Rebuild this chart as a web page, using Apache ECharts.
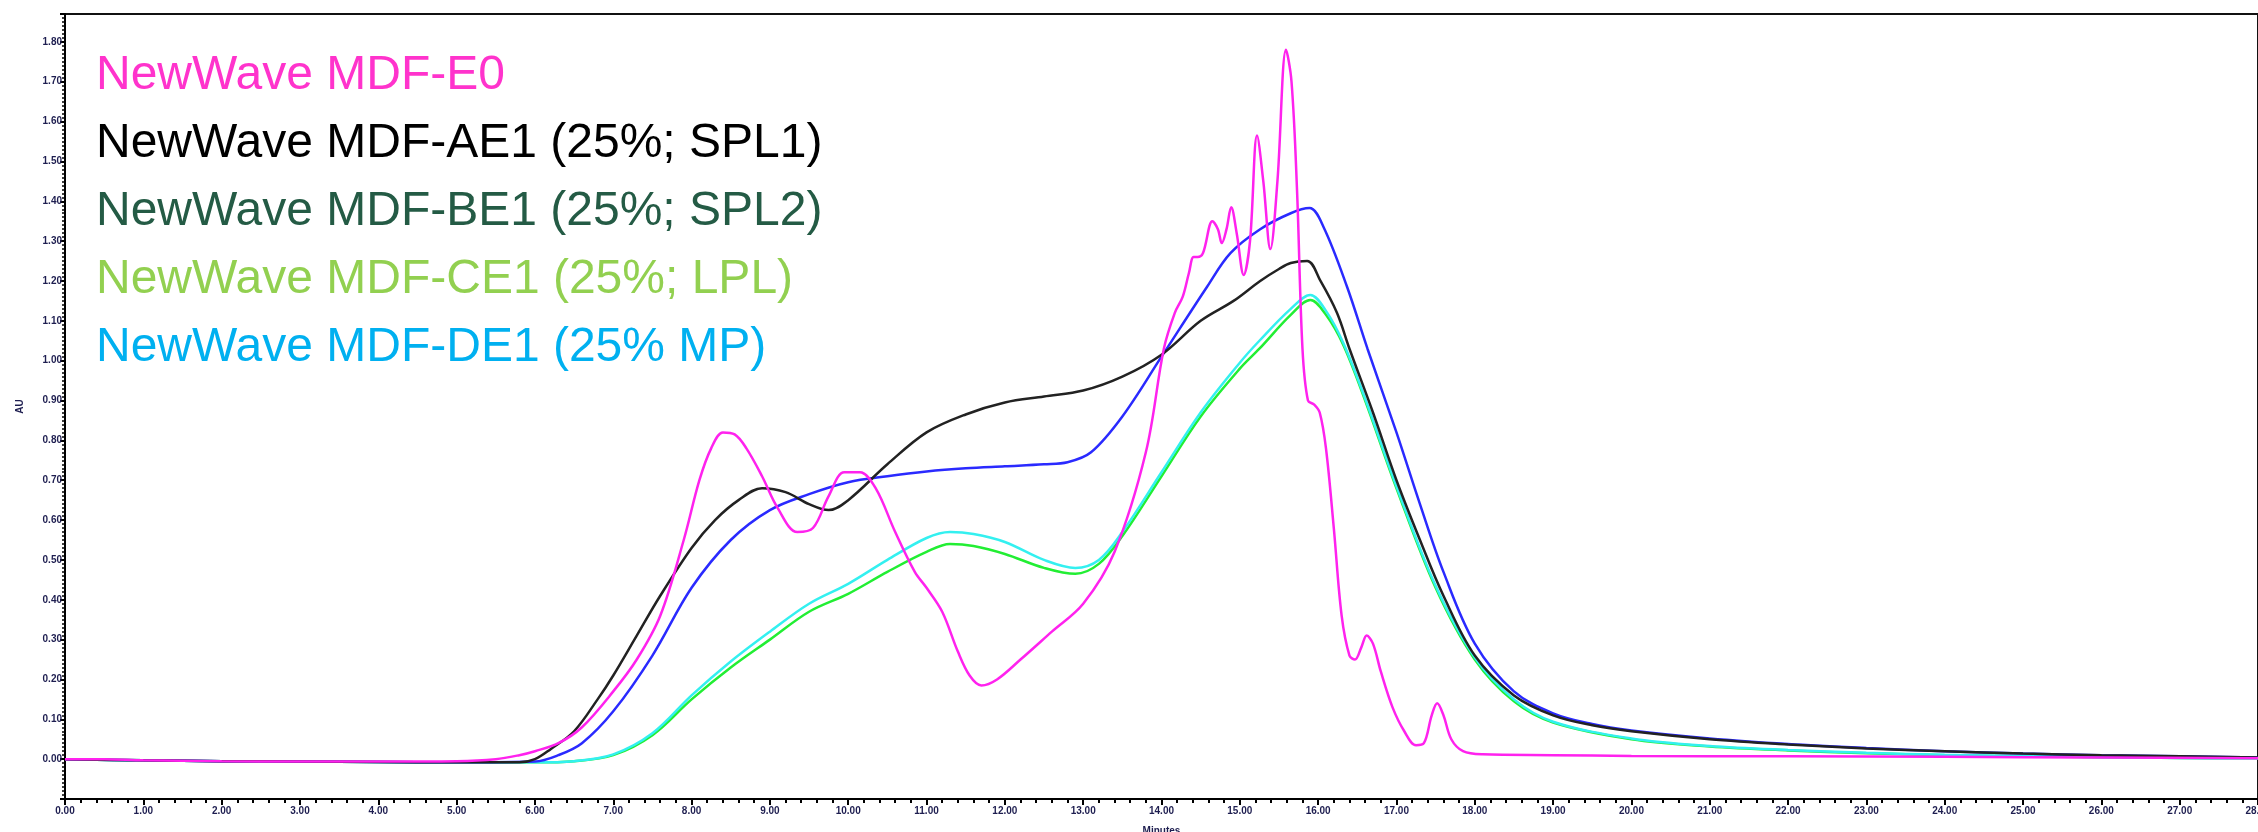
<!DOCTYPE html>
<html>
<head>
<meta charset="utf-8">
<script src="https://cdn.jsdelivr.net/npm/echarts@6/dist/echarts.min.js"></script>
<style>
  html, body { margin: 0; padding: 0; background: #fff; }
  #main { width: 2258px; height: 832px; }
</style>
</head>
<body>
<div id="main"></div>
<script>
// sample names (legend order) and legend text colours
const sampleNames = [
  'NewWave MDF-E0',
  'NewWave MDF-AE1 (25%; SPL1)',
  'NewWave MDF-BE1 (25%; SPL2)',
  'NewWave MDF-CE1 (25%; LPL)',
  'NewWave MDF-DE1 (25% MP)'
];
const legendColors = ['#ff33cc', '#000000', '#245b45', '#92d050', '#00b0f0'];
const lineColors = ['#ff22ee', '#222222', '#2a2aff', '#22ee33', '#33f0f0'];

// retention time (min) / absorbance (AU) for each trace
const e0Time = [0, 0.5, 1, 2, 3, 4, 5, 5.5, 5.8, 6.0, 6.3, 6.6, 7.0, 7.3, 7.6, 7.9, 8.1, 8.25, 8.4, 8.55, 8.7, 8.9, 9.1, 9.35, 9.55, 9.75, 9.95, 10.15, 10.35, 10.6, 10.85, 11.0, 11.2, 11.4, 11.55, 11.7, 11.9, 12.2, 12.6, 13.0, 13.4, 13.8, 14.03, 14.17, 14.27, 14.35, 14.41, 14.46, 14.53, 14.65, 14.72, 14.77, 14.83, 14.89, 14.96, 15.05, 15.13, 15.22, 15.3, 15.39, 15.48, 15.59, 15.66, 15.73, 15.8, 15.87, 15.95, 16.02, 16.1, 16.2, 16.3, 16.4, 16.47, 16.55, 16.62, 16.7, 16.8, 16.95, 17.1, 17.25, 17.35, 17.45, 17.52, 17.6, 17.7, 17.85, 18.1, 19, 20, 22, 24, 26, 28];
const e0Val = [0.0, 0.0, -0.003, -0.005, -0.006, -0.006, -0.005, 0.0, 0.01, 0.02, 0.04, 0.08, 0.17, 0.25, 0.36, 0.55, 0.70, 0.78, 0.82, 0.815, 0.78, 0.71, 0.63, 0.57, 0.58, 0.66, 0.72, 0.72, 0.68, 0.57, 0.47, 0.43, 0.37, 0.27, 0.21, 0.185, 0.2, 0.25, 0.32, 0.39, 0.52, 0.77, 1.03, 1.12, 1.16, 1.22, 1.26, 1.26, 1.27, 1.35, 1.33, 1.295, 1.33, 1.385, 1.32, 1.215, 1.3, 1.565, 1.45, 1.28, 1.45, 1.78, 1.70, 1.43, 1.03, 0.9, 0.89, 0.87, 0.78, 0.58, 0.36, 0.26, 0.25, 0.28, 0.31, 0.29, 0.22, 0.13, 0.07, 0.035, 0.04, 0.11, 0.14, 0.11, 0.05, 0.02, 0.012, 0.01, 0.008, 0.007, 0.006, 0.004, 0.002];

const ae1Time = [0, 1, 2, 3, 4, 5, 5.8, 6.0, 6.2, 6.5, 6.8, 7.0, 7.3, 7.6, 8.0, 8.3, 8.6, 8.9, 9.2, 9.5, 9.75, 10.0, 10.5, 11.0, 11.5, 12.0, 12.5, 13.0, 13.5, 14.0, 14.5, 14.92, 15.26, 15.5, 15.65, 15.86, 16.03, 16.24, 16.4, 16.7, 17.0, 17.3, 17.6, 18.0, 18.5, 19.0, 19.5, 20, 21, 22, 23, 24, 25, 26, 27, 28];
const ae1Val = [0.0, -0.003, -0.005, -0.006, -0.007, -0.008, -0.008, 0.0, 0.025, 0.07, 0.15, 0.21, 0.31, 0.41, 0.53, 0.6, 0.65, 0.68, 0.67, 0.64, 0.625, 0.65, 0.74, 0.82, 0.865, 0.895, 0.91, 0.925, 0.96, 1.015, 1.1, 1.15, 1.2, 1.23, 1.245, 1.25, 1.2, 1.12, 1.03, 0.87, 0.70, 0.55, 0.41, 0.26, 0.16, 0.11, 0.085, 0.07, 0.05, 0.037, 0.027, 0.02, 0.014, 0.01, 0.007, 0.004];

const be1Time = [0, 1, 2, 3, 4, 5, 6.0, 6.3, 6.6, 7.0, 7.5, 8.0, 8.5, 9.0, 9.5, 10.0, 10.5, 11.0, 11.5, 12.0, 12.5, 12.8, 13.1, 13.5, 14.0, 14.58, 14.88, 15.26, 15.65, 15.89, 16.07, 16.37, 16.63, 17.0, 17.3, 17.6, 18.0, 18.5, 19.0, 19.5, 20, 21, 22, 23, 24, 25, 26, 27, 28];
const be1Val = [0.0, -0.003, -0.005, -0.006, -0.007, -0.008, -0.006, 0.01, 0.04, 0.12, 0.26, 0.43, 0.55, 0.625, 0.665, 0.695, 0.71, 0.722, 0.73, 0.735, 0.74, 0.745, 0.77, 0.86, 1.01, 1.185, 1.27, 1.33, 1.37, 1.383, 1.335, 1.185, 1.03, 0.82, 0.64, 0.47, 0.29, 0.17, 0.115, 0.088, 0.072, 0.052, 0.038, 0.028, 0.02, 0.014, 0.01, 0.007, 0.004];

const ce1Time = [0, 1, 2, 3, 4, 5, 6, 6.5, 7.0, 7.5, 8.0, 8.5, 9.0, 9.5, 10.0, 10.5, 11.0, 11.3, 11.6, 12.0, 12.5, 12.9, 13.2, 13.5, 14.0, 14.5, 15.0, 15.25, 15.65, 15.9, 16.1, 16.32, 16.6, 17.0, 17.5, 18.0, 18.5, 19.0, 20, 21, 22, 23, 24, 25, 26, 27, 28];
const ce1Val = [0.0, -0.003, -0.005, -0.006, -0.007, -0.008, -0.008, -0.005, 0.01, 0.06, 0.15, 0.23, 0.30, 0.37, 0.415, 0.47, 0.52, 0.54, 0.535, 0.515, 0.48, 0.465, 0.49, 0.56, 0.71, 0.86, 0.98, 1.03, 1.115, 1.152, 1.115, 1.04, 0.9, 0.68, 0.43, 0.25, 0.145, 0.092, 0.05, 0.032, 0.022, 0.015, 0.01, 0.007, 0.005, 0.003, 0.002];

const de1Time = ce1Time;
const de1Val = [0.0, -0.003, -0.005, -0.006, -0.007, -0.008, -0.008, -0.005, 0.012, 0.065, 0.16, 0.245, 0.32, 0.39, 0.44, 0.50, 0.555, 0.57, 0.565, 0.545, 0.50, 0.48, 0.50, 0.57, 0.72, 0.87, 0.995, 1.05, 1.13, 1.165, 1.125, 1.045, 0.905, 0.685, 0.435, 0.255, 0.15, 0.094, 0.052, 0.033, 0.023, 0.016, 0.011, 0.008, 0.005, 0.003, 0.002];

const traceTimes = [e0Time, ae1Time, be1Time, ce1Time, de1Time];
const traceVals = [e0Val, ae1Val, be1Val, ce1Val, de1Val];
const traceZ = [6, 5, 4, 2, 3];

const myChart = echarts.init(document.getElementById('main'));

const axisFont = {
  fontFamily: 'Liberation Sans, Arial, sans-serif',
  fontSize: 10,
  fontWeight: 'bold',
  color: '#1e1e50'
};

myChart.setOption({
  animation: false,
  backgroundColor: '#ffffff',
  grid: {
    left: 65,
    right: 0,
    top: 14,
    bottom: 33,
    containLabel: false,
    outerBoundsMode: 'none',
    show: true,
    borderColor: '#111',
    borderWidth: 2
  },
  legend: {
    orient: 'vertical',
    left: 91,
    top: 42,
    padding: 0,
    itemGap: 0,
    itemWidth: 0,
    itemHeight: 0,
    icon: 'none',
    selectedMode: false,
    textStyle: {
      fontFamily: 'Liberation Sans, Arial, sans-serif',
      fontSize: 48,
      lineHeight: 68
    },
    data: sampleNames.map((n, i) => ({ name: n, textStyle: { color: legendColors[i] } }))
  },
  xAxis: {
    type: 'value',
    min: 0,
    max: 28,
    interval: 1,
    name: 'Minutes',
    nameLocation: 'middle',
    nameGap: 27,
    nameTextStyle: axisFont,
    axisLine: { onZero: false, lineStyle: { color: '#000', width: 2 } },
    axisTick: { length: 6, lineStyle: { color: '#000', width: 2 } },
    minorTick: { show: true, splitNumber: 5, length: 4, lineStyle: { color: '#000', width: 2 } },
    axisLabel: Object.assign({ margin: 7, formatter: v => v.toFixed(2) }, axisFont),
    splitLine: { show: false }
  },
  yAxis: {
    type: 'value',
    min: -0.1,
    max: 1.87,
    interval: 0.1,
    name: 'AU',
    nameLocation: 'middle',
    nameGap: 40,
    nameRotate: 90,
    nameTextStyle: axisFont,
    axisLine: { onZero: false, lineStyle: { color: '#000', width: 2 } },
    axisTick: { length: 5, lineStyle: { color: '#000', width: 2 } },
    minorTick: { show: true, splitNumber: 10, length: 3, lineStyle: { color: '#000', width: 1.5 } },
    axisLabel: Object.assign({
      margin: 3,
      showMinLabel: false,
      showMaxLabel: false,
      formatter: v => (v >= 0 && Math.abs(v * 10 - Math.round(v * 10)) < 1e-6) ? v.toFixed(2) : ''
    }, axisFont),
    splitLine: { show: false }
  },
  series: sampleNames.map((n, i) => ({
    name: n,
    type: 'line',
    z: traceZ[i],
    symbol: 'none',
    smooth: 0.35,
    color: lineColors[i],
    lineStyle: { color: lineColors[i], width: 2.5 },
    data: traceTimes[i].map((t, k) => [t, traceVals[i][k]])
  }))
});
</script>
</body>
</html>
